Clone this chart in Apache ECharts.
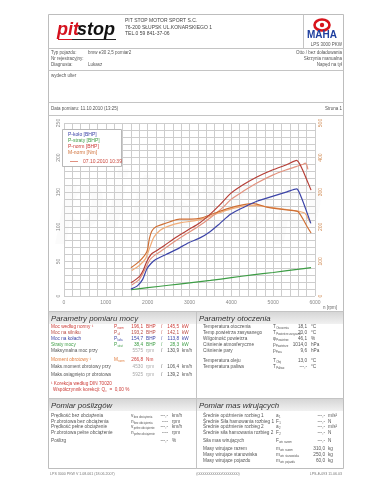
<!DOCTYPE html>
<html><head><meta charset="utf-8">
<script src="https://cdn.jsdelivr.net/npm/echarts@6/dist/echarts.min.js"></script>
<style>html,body{margin:0;padding:0;background:#fff}#c{width:370px;height:480px}</style>
</head><body><div id="c"></div><script>
// ---------- chart data ----------
const xTicks = [0, 1000, 2000, 3000, 4000, 5000, 6000];
const rpmKola = [1600,1760,1880,1980,2080,2200,2440,2680,2980,3250,3490,3730,3980,4290,4610,4980,5330,5560,5650,5770,5900];
const bhpKola = [10,15,24,39,47,53,60,67,77,84,93,105,118,128,137,144,150.5,154.7,146,127,105];
const rpmStraty = [1600,2000,2500,3000,3500,4000,4500,5000,5575,5906];
const bhpStraty = [9,12,15.5,19,22.5,26.5,30.5,34,38.4,41];
const rpmNorm = [1600,1800,1900,1980,2080,2200,2400,2680,2980,3250,3490,3730,3980,4290,4610,4980,5330,5560,5690,5810,5906];
const bhpNorm = [19,28,38,50,60,65,73,85,96,106,118,132,148,161,172,182,190,196,184,167,153];
const rpmNormRef = [1620,1800,1950,2050,2150,2300,2600,2900,3200,3500,3800,4000,4300,4600,5000,5300,5550,5700,5770,5810,5830];
const bhpNormRef = [16,24,40,52,58,64,77,89,100,113,128,140,152,163,175,182,187,190,192,188,183];
const rpmMom = [1600,1800,1980,2040,2100,2200,2350,2520,2760,3050,3300,3490,3700,3890,4100,4300,4530,4850,5170,5490,5590,5700,5800,5906];
const nmMom = [82,100,128,165,188,200,207,214,222,222,226,234,244,252,259,264,266.8,257,251,247,244,225,203,182];
const rpmMomRef = [1620,1800,1950,2050,2150,2300,2500,2800,3100,3400,3700,4000,4300,4600,4900,5200,5500,5750,5830,5890];
const nmMomRef = [74,88,108,140,170,190,202,212,217,226,240,252,260,261,257,252,247,240,225,212];

const seriesNames = ['P-koło [BHP]', 'P-straty [BHP]', 'P-norm [BHP]', 'M-norm [Nm]'];
const refName = '07.10.2010 10:39';

// ---------- report texts ----------
const companyLines = ['PIT STOP MOTOR SPORT S.C.', '76-200 SŁUPSK UL.KONARSKIEGO 1', 'TEL.0 59 841-37-06'];
const vehicleLabels = ['Typ pojazdu:', 'Nr rejestracyjny:', 'Diagnosta:'];
const vehicleValues = ['bmw e30 2,5 pomiar2', '', 'Lukasz'];
const vehicleSpecs = ['Otto / bez doładowania', 'Skrzynia manualna', 'Napęd na tył'];
const remark = 'wydech ulter';
const dateText = 'Data pomiaru: 11.10.2010 (13:25)';
const pageText = 'Strona 1';

const powerLabels = ['Moc według normy ¹', 'Moc na silniku', 'Moc na kołach', 'Straty mocy'];
const powerSubs = ['norm', 'sil', 'koła', 'strat'];
const powerBhp = ['196,1', '193,2', '154,7', '38,4'];
const powerKw = ['145,5', '142,1', '113,8', '28,3'];
const speedLabels = ['Maksymalna moc przy', 'Maks.moment obrotowy przy', 'Maks.osiągnięto pr obrotowa'];
const speedRpm = ['5575', '4530', '5925'];
const speedKmh = ['130,9', '106,4', '139,2'];
const torqueLabel = 'Moment obrotowy ¹';
const torqueValue = '266,8';

const envLabels = ['Temperatura otoczenia','Temp.powietrza zasysanego','Wilgotność powietrza','Ciśnienie atmosferyczne','Ciśnienie pary','Temperatura oleju','Temperatura paliwa'];
const envSym = ['T','T','φ','p','p','T','T'];
const envSubs = ['Otoczenia','Powietrze zasysane','Powietrze','Powietrze','Para','Olej','Paliwo'];
const envValues = ['18,1','20,0','46,1','1014,0','9,6','13,0','---,-'];
const envUnits = ['°C','°C','%','hPa','hPa','°C','°C'];

const slipLabels = ['Prędkość bez obciążenia','Pr.obrotowa bez obciążenia','Prędkość pełne obciążenie','Pr.obrotowa pełne obciążenie','Poślizg'];
const slipSym = ['v','n','v','n',''];
const slipSubs = ['bez obciążenia','bez obciążenia','pełne obciążenie','pełne obciążenie',''];
const slipValues = ['---,-','----','---,-','----','---,-'];
const slipUnits = ['km/h','rpm','km/h','rpm','%'];

const massLabels = ['Średnie opóźnienie rozbieg 1','Średnie Siła hamowania rozbieg 1','Średnie opóźnienie rozbieg 2','Średnie siła hamowania rozbieg 2','Siła mas wirujących','Masy wirujące razem','Masy wirujące stanowiska','Masy wirujące pojazdu'];
const massSym = ['a','F','a','F','F','m','m','m'];
const massSubs = ['1','1','2','2','wir. razem','wir. razem','wir. stanowiska','wir. pojazdu'];
const massValues = ['---,-','---,-','---,-','---,-','---,-','310,0','250,0','60,0'];
const massUnits = ['m/s²','N','m/s²','N','N','kg','kg','kg'];

const footerTexts = ['LPS 3000 PKW V 1.08.061 (18.06.2007)', '(000000000000/00000000)', 'LPS-E-093 11.06.03'];

// ---------- helpers ----------
const FF = '"Liberation Sans", Arial, sans-serif';
const mctx = document.createElement('canvas').getContext('2d');
function tw(t, s) { mctx.font = s + 'px ' + FF; return mctx.measureText(t).width; }
const G = [];
function txt(x, y, s, o) {
  o = o || {};
  G.push({type:'text', silent:true, z:o.z || 10, style:{x:x, y:y, text:s, fill:o.c || '#555',
    fontSize:o.s || 4.7, fontFamily:FF, fontStyle:o.i ? 'italic' : 'normal', fontWeight:o.b ? 'bold' : 'normal',
    textAlign:o.a || 'left', textVerticalAlign:'middle'}});
}
function ln(x1, y1, x2, y2, c, w) {
  G.push({type:'line', silent:true, z:9, shape:{x1:x1, y1:y1, x2:x2, y2:y2}, style:{stroke:c || '#c4c4c4', lineWidth:w || 1}});
}
function rc(x, y, w, h, fill, stroke, z) {
  G.push({type:'rect', silent:true, z:z || 8, shape:{x:x, y:y, width:w, height:h}, style:{fill:fill || 'none', stroke:stroke || 'none', lineWidth:1}});
}
function sym(x, y, m, sub, c) {
  if (!m) return;
  txt(x, y, m, {c:c});
  if (sub) txt(x + tw(m, 4.7) + 0.3, y + 1.4, sub, {c:c, s:2.8});
}

// ---------- frame ----------
rc(48.5, 14.5, 295, 454, 'none', '#bdbdbd');
ln(48.5, 48.5, 343.5, 48.5);
ln(48.5, 70.5, 343.5, 70.5);
ln(48.5, 102.5, 343.5, 102.5);
ln(48.5, 115.5, 343.5, 115.5);
ln(303.5, 14.5, 303.5, 48.5);
ln(48.5, 311.5, 343.5, 311.5);
ln(48.5, 398.5, 343.5, 398.5);
ln(196.5, 311.5, 196.5, 468.5);
const band = {type:'linear', x:0, y:0, x2:0, y2:1, colorStops:[{offset:0, color:'#d6d6d6'}, {offset:1, color:'#f1f1f1'}]};
rc(49, 312, 147, 12, band, 'none', 7);
rc(197, 312, 146, 12, band, 'none', 7);
rc(49, 399, 147, 12, band, 'none', 7);
rc(197, 399, 146, 12, band, 'none', 7);

// ---------- header ----------
txt(57, 30.5, 'pit', {c:'#d5121e', s:18, b:true, i:true});
txt(57 + tw('pit', 18) + 1, 30.5, 'stop', {c:'#111', s:18, b:true, i:true});
ln(58, 39.5, 116, 39.5, '#222', 1);
ln(58, 39.5, 72, 39.5, '#d5121e', 1);
companyLines.forEach((t, i) => txt(125, 21 + i * 6.5, t, {s:5, c:'#444'}));
G.push({type:'ellipse', silent:true, z:10, shape:{cx:322, cy:25, rx:7.5, ry:5.5}, style:{fill:'#fff', stroke:'#d8141c', lineWidth:2.6}});
G.push({type:'circle', silent:true, z:11, shape:{cx:322, cy:25, r:2.2}, style:{fill:'#d8141c'}});
txt(322, 35.5, 'MAHA', {c:'#1f3f9f', s:10, b:true, a:'center'});
txt(342, 44.5, 'LPS 3000 PKW', {s:4.5, c:'#555', a:'right'});

vehicleLabels.forEach((t, i) => txt(51, 53 + i * 6, t, {s:4.5}));
vehicleValues.forEach((t, i) => { if (t) txt(88, 53 + i * 6, t, {s:4.5}); });
vehicleSpecs.forEach((t, i) => txt(342, 53 + i * 6, t, {s:4.5, a:'right'}));
txt(51, 75.5, remark, {s:4.5});
txt(51, 109, dateText, {s:4.5});
txt(342, 109, pageText, {s:4.5, a:'right'});

// ---------- power table ----------
const cRed = '#cc3b36', cRed2 = '#b94a44', cBlue = '#3c44a8', cGreen = '#3d9d45', cOr = '#e07b3a', cDark = '#555', cLight = '#a8a8a8';
const powerColors = [cRed, cRed2, cBlue, cGreen];
txt(51, 318.5, 'Parametry pomiaru mocy', {s:7.8, i:true, c:'#333'});
const pRows = [327, 333, 339, 344.7];
powerLabels.forEach((t, i) => {
  const y = pRows[i], c = powerColors[i];
  txt(51, y, t, {c:c});
  sym(114, y, 'P', powerSubs[i], c);
  txt(143, y, powerBhp[i], {c:c, a:'right'});
  txt(146, y, 'BHP', {c:c});
  txt(161, y, '/', {c:c});
  txt(179, y, powerKw[i], {c:c, a:'right'});
  txt(182, y, 'kW', {c:c});
});
const sRows = [350.5, 367, 375];
speedLabels.forEach((t, i) => {
  const y = sRows[i];
  txt(51, y, t, {c:cDark});
  txt(143, y, speedRpm[i], {c:cLight, a:'right'});
  txt(146, y, 'rpm', {c:cLight});
  txt(161, y, '/', {c:cDark});
  txt(179, y, speedKmh[i], {c:cDark, a:'right'});
  txt(182, y, 'km/h', {c:cDark});
});
txt(51, 360, torqueLabel, {c:cOr});
sym(114, 360, 'M', 'norm', cOr);
txt(143, 360, torqueValue, {c:cRed, a:'right'});
txt(146, 360, 'Nm', {c:cRed});
txt(51, 384, '¹ Korekcja według DIN 70020', {c:cRed});
const wk = 'Współczynnik korekcji: Q';
txt(53, 390, wk, {c:cRed});
txt(53 + tw(wk, 4.7) + 0.3, 391.4, 'c', {c:cRed, s:2.8});
txt(53 + tw(wk, 4.7) + 3, 390, ' =  0,00 %', {c:cRed});

// ---------- environment table ----------
txt(199, 318.5, 'Parametry otoczenia', {s:7.8, i:true, c:'#333'});
const eRows = [327, 333, 339, 344.7, 350.5, 360.5, 366.5];
envLabels.forEach((t, i) => {
  const y = eRows[i];
  txt(203, y, t, {c:cDark});
  sym(273, y, envSym[i], envSubs[i], cDark);
  txt(307, y, envValues[i], {c:cDark, a:'right'});
  txt(311, y, envUnits[i], {c:cDark});
});

// ---------- slip table ----------
txt(51, 405.5, 'Pomiar poślizgów', {s:7.8, i:true, c:'#333'});
const slRows = [416, 421.5, 427, 432.5, 441];
slipLabels.forEach((t, i) => {
  const y = slRows[i];
  txt(51, y, t, {c:cDark});
  sym(131, y, slipSym[i], slipSubs[i], cDark);
  txt(168, y, slipValues[i], {c:cDark, a:'right'});
  txt(172, y, slipUnits[i], {c:cDark});
});

// ---------- mass table ----------
txt(199, 405.5, 'Pomiar mas wirujących', {s:7.8, i:true, c:'#333'});
const mRows = [416, 421.5, 427, 432.5, 441, 449, 454.5, 460.5];
massLabels.forEach((t, i) => {
  const y = mRows[i];
  txt(203, y, t, {c:cDark});
  sym(276, y, massSym[i], massSubs[i], cDark);
  txt(325, y, massValues[i], {c:cDark, a:'right'});
  txt(328, y, massUnits[i], {c:cDark});
});

// ---------- footer ----------
txt(50, 474, footerTexts[0], {s:3.6, c:'#777'});
txt(218, 474, footerTexts[1], {s:3.6, c:'#777', a:'center'});
txt(342, 474, footerTexts[2], {s:3.6, c:'#777', a:'right'});

// ---------- chart decorations ----------
txt(190, 205, 'pitstop', {s:80, b:true, i:true, c:'rgba(0,0,0,0.015)', a:'center', z:-1});
rc(62.5, 129.5, 59, 37, '#fff', '#b8b8b8', 3);
txt(323, 307.5, 'n [rpm]', {s:4.5, c:'#666'});

function pairs(xs, ys) { return xs.map((x, i) => [x, ys[i]]); }
const gridLine = {lineStyle:{color:'#cdcdcd', width:1}};

const chart = echarts.init(document.getElementById('c'), null, {renderer:'canvas', width:370, height:480});
chart.setOption({
  animation:false,
  backgroundColor:'#fff',
  grid:{left:64, right:55, top:123, bottom:184, containLabel:false},
  xAxis:{type:'value', min:xTicks[0], max:xTicks[xTicks.length - 1], interval:1000,
    axisLine:{show:false}, axisTick:{show:false},
    axisLabel:{color:'#888', fontSize:5, margin:4, fontFamily:FF, formatter:(v) => String(v)},
    splitLine:Object.assign({show:true}, gridLine),
    minorTick:{show:false, splitNumber:5}, minorSplitLine:Object.assign({show:true}, gridLine)},
  yAxis:[
    {type:'value', min:0, max:250, interval:50, position:'left',
      axisLine:{show:false}, axisTick:{show:false},
      axisLabel:{color:'#888', fontSize:5, rotate:90, margin:3, fontFamily:FF},
      splitLine:Object.assign({show:true}, gridLine),
      minorTick:{show:false, splitNumber:5}, minorSplitLine:Object.assign({show:true}, gridLine)},
    {type:'value', min:0, max:500, interval:100, position:'right',
      axisLine:{show:false}, axisTick:{show:false},
      axisLabel:{color:'#d08a52', fontSize:5, rotate:90, margin:3, fontFamily:FF},
      splitLine:{show:false}}
  ],
  legend:[
    {orient:'vertical', left:63, top:132.5, padding:0, itemGap:1, itemWidth:0, itemHeight:5, icon:'none', selectedMode:false,
      textStyle:{fontSize:5, lineHeight:5, fontFamily:FF},
      data:[
        {name:seriesNames[0], textStyle:{color:'#3c44a8'}},
        {name:seriesNames[1], textStyle:{color:'#3d9d45'}},
        {name:seriesNames[2], textStyle:{color:'#cc3b36'}},
        {name:seriesNames[3], textStyle:{color:'#d07038'}}
      ]},
    {orient:'horizontal', left:70, top:159, padding:0, itemWidth:8, itemHeight:1, icon:'rect', selectedMode:false,
      textStyle:{fontSize:5, fontFamily:FF},
      data:[{name:refName, itemStyle:{color:'#e09080'}, textStyle:{color:'#cc4a40'}}]}
  ],
  graphic:{elements:G},
  series:[
    {name:refName, type:'line', data:pairs(rpmMomRef, nmMomRef), yAxisIndex:1, showSymbol:false, smooth:0.25,
      lineStyle:{color:'#f0ac78', width:1.2}, itemStyle:{color:'#f0ac78'}, z:2},
    {name:refName, type:'line', data:pairs(rpmNormRef, bhpNormRef), showSymbol:false, smooth:0.25,
      lineStyle:{color:'#e3937f', width:1.2}, itemStyle:{color:'#e3937f'}, z:2},
    {name:seriesNames[1], type:'line', data:pairs(rpmStraty, bhpStraty), showSymbol:false, smooth:0.25,
      lineStyle:{color:'#3d9d45', width:1.2}, itemStyle:{color:'#3d9d45'}, z:3},
    {name:seriesNames[3], type:'line', data:pairs(rpmMom, nmMom), yAxisIndex:1, showSymbol:false, smooth:0.25,
      lineStyle:{color:'#cf6f34', width:1.2}, itemStyle:{color:'#cf6f34'}, z:3},
    {name:seriesNames[0], type:'line', data:pairs(rpmKola, bhpKola), showSymbol:false, smooth:0.25,
      lineStyle:{color:'#3c44a8', width:1.2}, itemStyle:{color:'#3c44a8'}, z:3},
    {name:seriesNames[2], type:'line', data:pairs(rpmNorm, bhpNorm), showSymbol:false, smooth:0.25,
      lineStyle:{color:'#b63f37', width:1.2}, itemStyle:{color:'#b63f37'}, z:3}
  ]
});
</script></body></html>
